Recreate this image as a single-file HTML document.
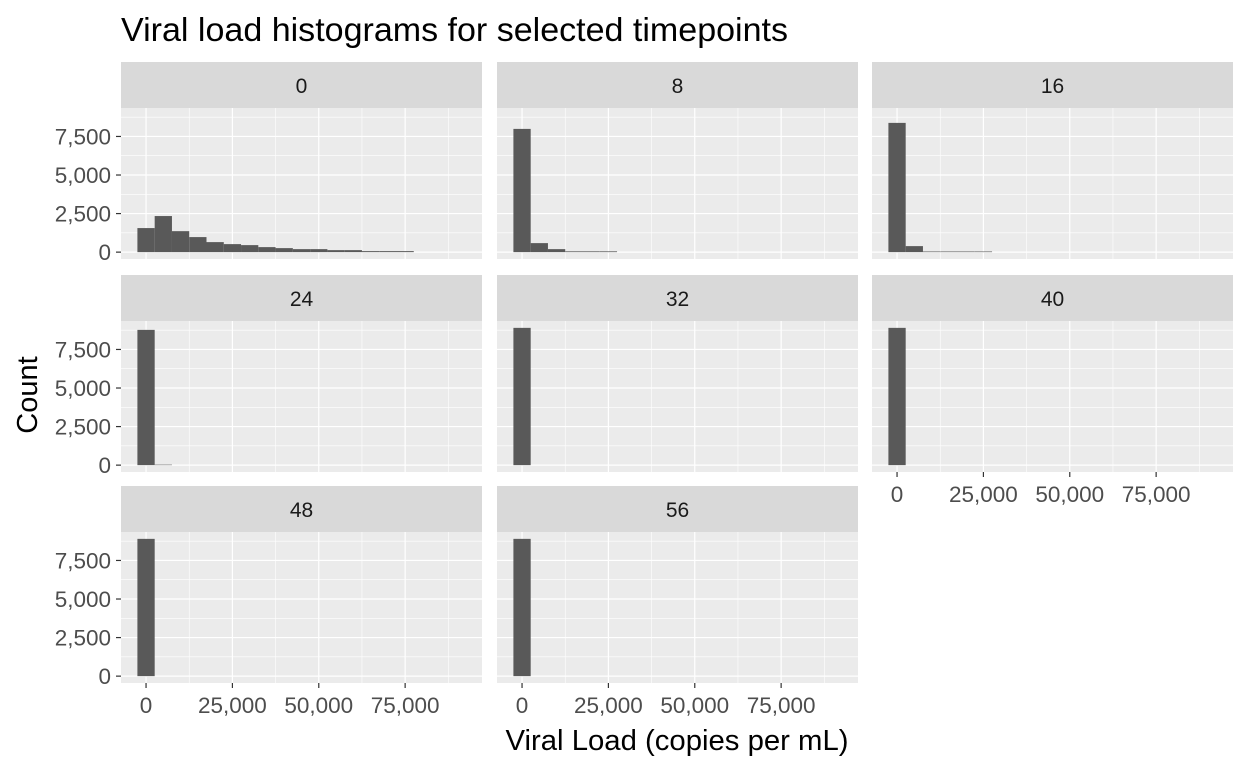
<!DOCTYPE html>
<html><head><meta charset="utf-8"><style>
body{margin:0;background:#fff;font-family:"Liberation Sans",Arial,sans-serif;}
svg text{font-family:"Liberation Sans",Arial,sans-serif;}
</style></head><body>
<svg id="chart" width="1248" height="768" xmlns="http://www.w3.org/2000/svg">
<text x="121" y="41" font-size="33" fill="#000" textLength="667" lengthAdjust="spacingAndGlyphs">Viral load histograms for selected timepoints</text>
<text x="677" y="750" font-size="29" fill="#000" text-anchor="middle" textLength="343" lengthAdjust="spacingAndGlyphs">Viral Load (copies per mL)</text>
<text transform="translate(37,395) rotate(-90)" font-size="29" fill="#000" text-anchor="middle">Count</text>
</svg>
<script>
const timepoints = ["0","8","16","24","32","40","48","56"];
const binCenters = [0,5000,10000,15000,20000,25000,30000,35000,40000,45000,50000,55000,60000,65000,70000,75000];
const counts0 = [1560,2340,1360,975,650,520,455,325,260,195,195,130,130,65,65,65];
const counts8 = [7990,585,195,50,50,50,0,0,0,0,0,0,0,0,0,0];
const counts16 = [8380,390,40,40,40,40,0,0,0,0,0,0,0,0,0,0];
const counts24 = [8770,30,0,0,0,0,0,0,0,0,0,0,0,0,0,0];
const counts32 = [8900,0,0,0,0,0,0,0,0,0,0,0,0,0,0,0];
const counts40 = [8900,0,0,0,0,0,0,0,0,0,0,0,0,0,0,0];
const counts48 = [8900,0,0,0,0,0,0,0,0,0,0,0,0,0,0,0];
const counts56 = [8900,0,0,0,0,0,0,0,0,0,0,0,0,0,0,0];
const allCounts = [counts0,counts8,counts16,counts24,counts32,counts40,counts48,counts56];
const yTicks = [0,2500,5000,7500];
const yTickLabels = ["0","2,500","5,000","7,500"];
const yMinor = [1250,3750,6250,8750];
const xTicks = [0,25000,50000,75000];
const xTickLabels = ["0","25,000","50,000","75,000"];
const xMinor = [12500,37500,62500,87500];
const binWidth = 5000;
const xMin=-7250, xMax=97250, yMin=-445, yMax=9345;

const NS="http://www.w3.org/2000/svg";
const svg=document.getElementById('chart');
function mk(tag,attrs,parent){const e=document.createElementNS(NS,tag);for(const k in attrs)e.setAttribute(k,attrs[k]);(parent||svg).appendChild(e);return e;}
const colX=[121,497,872], panW=361, panH=151;
const rowStripTop=[62,275,486];
const stripH=46;
timepoints.forEach((tp,i)=>{
  const r=Math.floor(i/3), c=i%3;
  const px=colX[c], sy=rowStripTop[r], py=sy+stripH;
  const g=mk('g',{});
  
  
  const sx=v=>px+(v-xMin)/(xMax-xMin)*panW;
  const syf=v=>py+panH-(v-yMin)/(yMax-yMin)*panH;
  const strip=mk('rect',{x:px,y:sy,width:panW,height:stripH,fill:'#d9d9d9'},g);
  
  
  const st=mk('text',{x:px+panW/2,y:sy+31,'font-size':21,fill:'#1a1a1a','text-anchor':'middle'},g);
  st.textContent=tp;
  
  
  const bg=mk('rect',{x:px,y:py,width:panW,height:panH,fill:'#ebebeb'},g);
  
  
  yMinor.forEach(v=>mk('line',{x1:px,x2:px+panW,y1:syf(v),y2:syf(v),stroke:'#fff','stroke-width':0.6},g));
  xMinor.forEach(v=>mk('line',{x1:sx(v),x2:sx(v),y1:py,y2:py+panH,stroke:'#fff','stroke-width':0.6},g));
  yTicks.forEach(v=>mk('line',{x1:px,x2:px+panW,y1:syf(v),y2:syf(v),stroke:'#fff','stroke-width':1.2},g));
  xTicks.forEach(v=>mk('line',{x1:sx(v),x2:sx(v),y1:py,y2:py+panH,stroke:'#fff','stroke-width':1.2},g));
  allCounts[i].forEach((cnt,j)=>{
    if(cnt<=0)return;
    const b=mk('rect',{x:sx(binCenters[j]-binWidth/2),y:syf(cnt),width:sx(binWidth)-sx(0),height:syf(0)-syf(cnt),fill:'#595959'},g);
    
    
  });
  if(c===0){
    yTicks.forEach((v,k)=>{
      mk('line',{x1:px-5,x2:px,y1:syf(v),y2:syf(v),stroke:'#333','stroke-width':1.2},g);
      const t=mk('text',{x:px-10,y:syf(v)+8,'font-size':22.5,fill:'#4d4d4d','text-anchor':'end'},g);
      t.textContent=yTickLabels[k];
      
      
    });
  }
  const bottom = (r===2) || (r===1 && c===2);
  if(bottom){
    xTicks.forEach((v,k)=>{
      mk('line',{x1:sx(v),x2:sx(v),y1:py+panH,y2:py+panH+5,stroke:'#333','stroke-width':1.2},g);
      const t=mk('text',{x:sx(v),y:py+panH+30,'font-size':22.5,fill:'#4d4d4d','text-anchor':'middle'},g);
      t.textContent=xTickLabels[k];
      
      
    });
  }
});
</script>
</body></html>
